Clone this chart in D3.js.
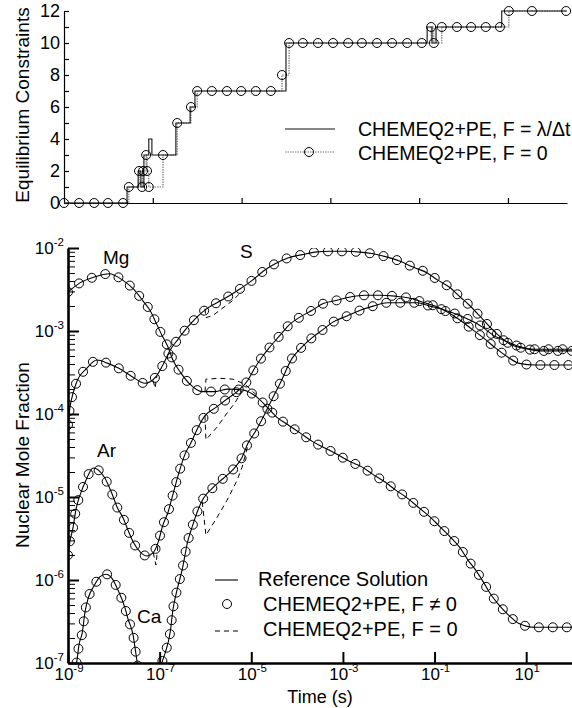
<!DOCTYPE html>
<html>
<head>
<meta charset="utf-8">
<script src="https://cdn.jsdelivr.net/npm/d3@7"></script>
<style>
body { margin: 0; background: #fff; }
svg { display: block; font-family: "Liberation Sans", Arial, sans-serif; }
</style>
</head>
<body>
<div id="chart"></div>
<script>
const W = 572, H = 708

// top panel: number of equilibrium constraints, pairs of [log10 time, count]
const eqLambda = [[-9, 0], [-7.58, 1], [-7.33, 2], [-7.27, 1], [-7.20, 3], [-7.09, 4], [-7.02, 3], [-6.48, 5],
    [-6.16, 6], [-6.05, 7], [-4.0, 10], [-0.82, 11], [-0.71, 10], [-0.62, 11], [0.86, 12], [2.33, 12]]
const eqZero = [[-9, 0], [-8.66, 0], [-8.32, 0], [-8.01, 0], [-7.67, 0], [-7.54, 1], [-7.31, 2], [-7.24, 1],
    [-7.22, 2], [-7.15, 3], [-7.13, 2], [-7.09, 1], [-6.77, 3], [-6.45, 5], [-6.14, 6], [-6.0, 7], [-5.67, 7],
    [-5.33, 7], [-5.01, 7], [-4.68, 7], [-4.34, 7], [-4.09, 8], [-3.93, 10], [-3.62, 10], [-3.28, 10],
    [-2.94, 10], [-2.60, 10], [-2.29, 10], [-1.95, 10], [-1.61, 10], [-1.27, 10], [-0.94, 10], [-0.73, 11],
    [-0.67, 10], [-0.49, 11], [-0.15, 11], [0.17, 11], [0.50, 11], [0.82, 11], [1.02, 12], [1.54, 12], [2.31, 12]]
const topYTicks = [0, 1, 2, 3, 4, 5, 6, 7, 8, 9, 10, 11, 12]
const topXTicks = [-7, -5, -3, -1, 1]

// bottom panel: reference solutions, pairs of [log10 time, log10 mole fraction]
const mgRef = [[-9.0, -2.53], [-8.74, -2.42], [-8.43, -2.35], [-8.10, -2.31], [-7.80, -2.39], [-7.58, -2.49],
    [-7.36, -2.64], [-7.19, -2.77], [-7.08, -2.90], [-6.95, -3.05], [-6.82, -3.19], [-6.71, -3.35], [-6.53, -3.51],
    [-6.34, -3.64], [-6.07, -3.73], [-5.79, -3.73], [-5.51, -3.70], [-5.18, -3.71], [-4.87, -3.80], [-4.65, -3.92],
    [-4.44, -4.04], [-4.20, -4.13], [-3.93, -4.23], [-3.67, -4.33], [-3.43, -4.40], [-3.15, -4.48], [-2.86, -4.57],
    [-2.58, -4.64], [-2.34, -4.73], [-2.08, -4.82], [-1.84, -4.92], [-1.60, -5.01], [-1.36, -5.12], [-1.10, -5.24],
    [-0.88, -5.36], [-0.66, -5.48], [-0.46, -5.60], [-0.27, -5.76], [-0.09, -5.89], [0.06, -6.02], [0.21, -6.16],
    [0.39, -6.29], [0.61, -6.42], [0.83, -6.52], [1.20, -6.57], [2.0, -6.57]]
const sRef = [[-9.0, -4.13], [-8.96, -3.93], [-8.89, -3.75], [-8.80, -3.60], [-8.59, -3.45], [-8.37, -3.35],
    [-8.13, -3.39], [-7.89, -3.45], [-7.60, -3.55], [-7.32, -3.63], [-7.08, -3.55], [-6.93, -3.41], [-6.77, -3.23],
    [-6.60, -3.10], [-6.40, -2.96], [-6.18, -2.83], [-5.97, -2.73], [-5.75, -2.66], [-5.46, -2.57], [-5.24, -2.49],
    [-4.98, -2.39], [-4.74, -2.28], [-4.48, -2.19], [-4.20, -2.12], [-3.89, -2.08], [-3.61, -2.05], [-3.28, -2.04],
    [-2.95, -2.04], [-2.62, -2.05], [-2.34, -2.07], [-2.03, -2.11], [-1.75, -2.16], [-1.47, -2.23], [-1.16, -2.30],
    [-0.92, -2.39], [-0.68, -2.47], [-0.44, -2.59], [-0.24, -2.69], [-0.03, -2.81], [0.17, -2.93], [0.39, -3.05],
    [0.65, -3.16], [0.87, -3.20], [1.20, -3.22], [2.0, -3.22]]
const arRef = [[-9.0, -5.70], [-8.96, -5.54], [-8.89, -5.37], [-8.83, -5.16], [-8.72, -4.95], [-8.61, -4.80],
    [-8.45, -4.65], [-8.21, -4.76], [-8.04, -4.96], [-7.93, -5.12], [-7.80, -5.25], [-7.69, -5.40], [-7.58, -5.54],
    [-7.41, -5.67], [-7.28, -5.71], [-7.14, -5.67], [-7.03, -5.54], [-6.93, -5.34], [-6.82, -5.19], [-6.73, -5.01],
    [-6.58, -4.71], [-6.45, -4.49], [-6.31, -4.34], [-6.16, -4.16], [-6.01, -4.02], [-5.77, -3.92], [-5.53, -3.82],
    [-5.31, -3.73], [-5.07, -3.59], [-4.94, -3.46], [-4.76, -3.31], [-4.59, -3.19], [-4.37, -3.05], [-4.20, -2.94],
    [-3.93, -2.83], [-3.67, -2.75], [-3.43, -2.67], [-3.13, -2.63], [-2.84, -2.59], [-2.52, -2.57], [-2.19, -2.57],
    [-1.86, -2.58], [-1.58, -2.60], [-1.27, -2.65], [-0.99, -2.70], [-0.44, -2.87], [-0.18, -2.98], [0.06, -3.08],
    [0.32, -3.20], [0.59, -3.31], [0.85, -3.39], [1.20, -3.41], [2.0, -3.41]]
const caRef = [[-9.0, -8.0], [-8.9, -7.25], [-8.80, -6.95], [-8.76, -6.78], [-8.69, -6.64], [-8.63, -6.39],
    [-8.56, -6.22], [-8.43, -6.07], [-8.30, -5.96], [-8.17, -5.93], [-8.04, -5.98], [-7.91, -6.12], [-7.76, -6.33],
    [-7.69, -6.47], [-7.58, -6.66], [-7.52, -6.88], [-7.45, -7.14], [-7.3, -7.45], [-7.15, -7.45], [-7.0, -7.15],
    [-6.95, -7.0], [-6.88, -6.88], [-6.77, -6.63], [-6.71, -6.36], [-6.62, -6.12], [-6.51, -5.88], [-6.38, -5.52],
    [-6.29, -5.36], [-6.18, -5.18], [-6.05, -5.02], [-5.86, -4.90], [-5.62, -4.78], [-5.40, -4.67], [-5.20, -4.52],
    [-5.07, -4.35], [-4.92, -4.22], [-4.76, -4.06], [-4.59, -3.87], [-4.37, -3.63], [-4.11, -3.33], [-3.89, -3.19],
    [-3.67, -3.08], [-3.45, -2.99], [-3.21, -2.89], [-2.91, -2.82], [-2.62, -2.75], [-2.34, -2.70], [-2.03, -2.66],
    [-1.71, -2.66], [-1.38, -2.66], [-1.10, -2.70], [-0.77, -2.75], [-0.51, -2.80], [-0.22, -2.87], [0.04, -2.95],
    [0.28, -3.05], [0.59, -3.13], [0.87, -3.19], [1.31, -3.24], [2.0, -3.24]]

// bottom panel: where the F = 0 run leaves the reference
const mgZero = [[-6.01, -3.73], [-5.99, -3.58], [-5.68, -3.57], [-5.40, -3.58], [-5.14, -3.64], [-4.87, -3.78]]
const sZero = [[-6.01, -2.73], [-5.99, -2.84], [-5.83, -2.81], [-5.64, -2.73], [-5.42, -2.64], [-5.20, -2.52]]
const sZeroBlip = [[-7.14, -3.60], [-7.10, -3.69], [-7.06, -3.54]]
const arZero = [[-6.01, -4.02], [-5.99, -4.31], [-5.75, -4.16], [-5.53, -3.99], [-5.35, -3.86], [-5.20, -3.72]]
const arZeroBlip = [[-7.14, -5.67], [-7.08, -5.82], [-7.03, -5.54]]
const caZero = [[-6.07, -5.06], [-5.99, -5.46], [-5.75, -5.25], [-5.53, -5.04], [-5.31, -4.80], [-5.20, -4.64], [-5.07, -4.37]]

const botYTicks = [-7, -6, -5, -4, -3, -2]
const botXTicks = [-9, -7, -5, -3, -1, 1]

const species = [
    { name: "Mg", ref: mgRef, zero: [mgZero], lx: 103, ly: 264 },
    { name: "S", ref: sRef, zero: [sZero, sZeroBlip], lx: 240, ly: 258 },
    { name: "Ar", ref: arRef, zero: [arZero, arZeroBlip], lx: 97, ly: 457 },
    { name: "Ca", ref: caRef, zero: [caZero], lx: 137, ly: 623 },
]

const svg = d3.select("#chart")
    .append("svg")
        .attr("width", W)
        .attr("height", H)

// ---------- top panel ----------
const xTop = d3.scaleLog().domain([1e-9, 10 ** 2.33]).range([64, 567])
const yTop = d3.scaleLinear().domain([0, 12]).range([203, 11])

const topG = svg.append("g")

topG.append("g")
    .attr("transform", `translate(0,${yTop(0)})`)
    .call(d3.axisBottom(xTop).tickValues(topXTicks.map(e => 10 ** e)).tickSize(-5).tickSizeOuter(0).tickFormat(""))
    .call(g => g.selectAll("line,path").attr("stroke", "#000").attr("stroke-width", 1.2))

topG.append("g")
    .attr("transform", `translate(${xTop(1e-9)},0)`)
    .call(d3.axisLeft(yTop).tickValues(topYTicks).tickSize(-5).tickSizeOuter(0).tickPadding(4)
        .tickFormat(d => d % 2 ? "" : d))
    .call(g => g.selectAll("line,path").attr("stroke", "#000").attr("stroke-width", 1.2))
    .call(g => g.selectAll("text").attr("font-size", 18).attr("fill", "#000")
        .attr("font-family", "'Liberation Sans', Arial, sans-serif"))

const stepLine = d3.line()
    .x(d => xTop(10 ** d[0]))
    .y(d => yTop(d[1]))
    .curve(d3.curveStepAfter)

topG.append("path")
    .attr("d", stepLine(eqZero))
    .attr("fill", "none")
    .attr("stroke", "#777")
    .attr("stroke-width", 1.2)
    .attr("stroke-dasharray", "1.5,1")

topG.append("path")
    .attr("d", stepLine(eqLambda))
    .attr("fill", "none")
    .attr("stroke", "#111")
    .attr("stroke-width", 1.1)

topG.selectAll("circle.eq")
    .data(eqZero)
    .join("circle")
        .attr("class", "eq")
        .attr("cx", d => xTop(10 ** d[0]))
        .attr("cy", d => yTop(d[1]))
        .attr("r", 4.5)
        .attr("fill", "none")
        .attr("stroke", "#000")
        .attr("stroke-width", 1)

topG.append("text")
    .attr("transform", "translate(29,105) rotate(-90)")
    .attr("text-anchor", "middle")
    .attr("font-size", 19)
    .text("Equilibrium Constraints")

// top legend
const topLeg = topG.append("g")
topLeg.append("line").attr("x1", 285).attr("x2", 335).attr("y1", 129).attr("y2", 129)
    .attr("stroke", "#111").attr("stroke-width", 1.1)
topLeg.append("text").attr("x", 358).attr("y", 136).attr("font-size", 19.5).text("CHEMEQ2+PE, F = λ/Δt")
topLeg.append("line").attr("x1", 285).attr("x2", 335).attr("y1", 152).attr("y2", 152)
    .attr("stroke", "#777").attr("stroke-width", 1.2).attr("stroke-dasharray", "1.5,1")
topLeg.append("circle").attr("cx", 309).attr("cy", 152).attr("r", 4.5)
    .attr("fill", "none").attr("stroke", "#000")
topLeg.append("text").attr("x", 358).attr("y", 160).attr("font-size", 19.5).text("CHEMEQ2+PE, F = 0")

// ---------- bottom panel ----------
const xBot = d3.scaleLog().domain([1e-9, 1e2]).range([68, 572])
const yBot = d3.scaleLog().domain([1e-7, 1e-2]).range([663, 248])

const botG = svg.append("g")

svg.append("defs").append("clipPath")
        .attr("id", "plot-clip")
    .append("rect")
        .attr("x", xBot.range()[0])
        .attr("y", yBot.range()[1])
        .attr("width", xBot.range()[1] - xBot.range()[0])
        .attr("height", yBot.range()[0] - yBot.range()[1])

const minorY = []
botYTicks.slice(0, -1).forEach(e => { for (let k = 2; k < 10; k++) minorY.push(k * 10 ** e) })

botG.append("g")
    .attr("transform", `translate(${xBot(1e-9)},0)`)
    .call(d3.axisLeft(yBot).tickValues(minorY).tickSize(-7).tickFormat(""))
    .call(g => g.select(".domain").remove())
    .call(g => g.selectAll("line").attr("stroke", "#000").attr("stroke-width", 1))

botG.append("g")
    .attr("transform", `translate(${xBot(1e-9)},0)`)
    .call(d3.axisLeft(yBot).tickValues(botYTicks.map(e => 10 ** e)).tickSize(-11).tickSizeOuter(0).tickFormat(""))
    .call(g => g.selectAll("line").attr("stroke", "#000").attr("stroke-width", 2))
    .call(g => g.select(".domain").attr("stroke", "#000").attr("stroke-width", 2.6))

botG.append("g")
    .attr("transform", `translate(0,${yBot(1e-7)})`)
    .call(d3.axisBottom(xBot).tickValues(botXTicks.map(e => 10 ** e)).tickSize(-11).tickSizeOuter(0).tickFormat(""))
    .call(g => g.selectAll("line").attr("stroke", "#000").attr("stroke-width", 2))
    .call(g => g.select(".domain").attr("stroke", "#000").attr("stroke-width", 2.6))

// power-of-ten labels
const powLabel = (sel, x, y, anchor, exp) => {
    const t = sel.append("text")
        .attr("x", x)
        .attr("y", y)
        .attr("text-anchor", anchor)
        .attr("font-size", 17)
    t.append("tspan").text("10")
    t.append("tspan").attr("dy", -8).attr("font-size", 11.5).text(exp)
}

botYTicks.forEach(e => powLabel(botG, 64, yBot(10 ** e) + 6, "end", e))
botXTicks.forEach(e => powLabel(botG, xBot(10 ** e) + 1, 680, "middle", e))

botG.append("text")
    .attr("x", (xBot.range()[0] + xBot.range()[1]) / 2)
    .attr("y", 703)
    .attr("text-anchor", "middle")
    .attr("font-size", 18)
    .text("Time (s)")

botG.append("text")
    .attr("transform", "translate(29,455) rotate(-90)")
    .attr("text-anchor", "middle")
    .attr("font-size", 19)
    .text("Nuclear Mole Fraction")

const curve = d3.line()
    .x(d => xBot(10 ** d[0]))
    .y(d => yBot(10 ** d[1]))
    .curve(d3.curveMonotoneX)

const jagged = d3.line()
    .x(d => xBot(10 ** d[0]))
    .y(d => yBot(10 ** d[1]))

const plot = botG.append("g").attr("clip-path", "url(#plot-clip)")

species.forEach(s => {
    s.zero.forEach(seg => {
        plot.append("path")
            .attr("d", jagged(seg))
            .attr("fill", "none")
            .attr("stroke", "#000")
            .attr("stroke-width", 1)
            .attr("stroke-dasharray", "5,4")
    })

    const path = plot.append("path")
        .attr("d", curve(s.ref))
        .attr("fill", "none")
        .attr("stroke", "#000")
        .attr("stroke-width", 1.1)

    // symbols spaced evenly along the drawn curve
    const node = path.node()
    const len = node.getTotalLength()
    const marks = d3.range(0, len, 14).map(l => node.getPointAtLength(l))

    plot.append("g")
        .selectAll("circle")
        .data(marks)
        .join("circle")
            .attr("cx", d => d.x)
            .attr("cy", d => d.y)
            .attr("r", 4.5)
            .attr("fill", "none")
            .attr("stroke", "#000")
            .attr("stroke-width", 1)

    botG.append("text")
        .attr("x", s.lx)
        .attr("y", s.ly)
        .attr("font-size", 19)
        .text(s.name)
})

// bottom legend
const botLeg = botG.append("g")
botLeg.append("line").attr("x1", 215).attr("x2", 238).attr("y1", 580).attr("y2", 580)
    .attr("stroke", "#000").attr("stroke-width", 1.1)
botLeg.append("text").attr("x", 258).attr("y", 586).attr("font-size", 20).text("Reference Solution")
botLeg.append("circle").attr("cx", 227).attr("cy", 604).attr("r", 4.5)
    .attr("fill", "none").attr("stroke", "#000")
botLeg.append("text").attr("x", 263).attr("y", 611).attr("font-size", 20).text("CHEMEQ2+PE, F ≠ 0")
botLeg.append("line").attr("x1", 215).attr("x2", 238).attr("y1", 631).attr("y2", 631)
    .attr("stroke", "#000").attr("stroke-width", 1).attr("stroke-dasharray", "5,4")
botLeg.append("text").attr("x", 263).attr("y", 636).attr("font-size", 20).text("CHEMEQ2+PE, F = 0")
</script>
</body>
</html>
